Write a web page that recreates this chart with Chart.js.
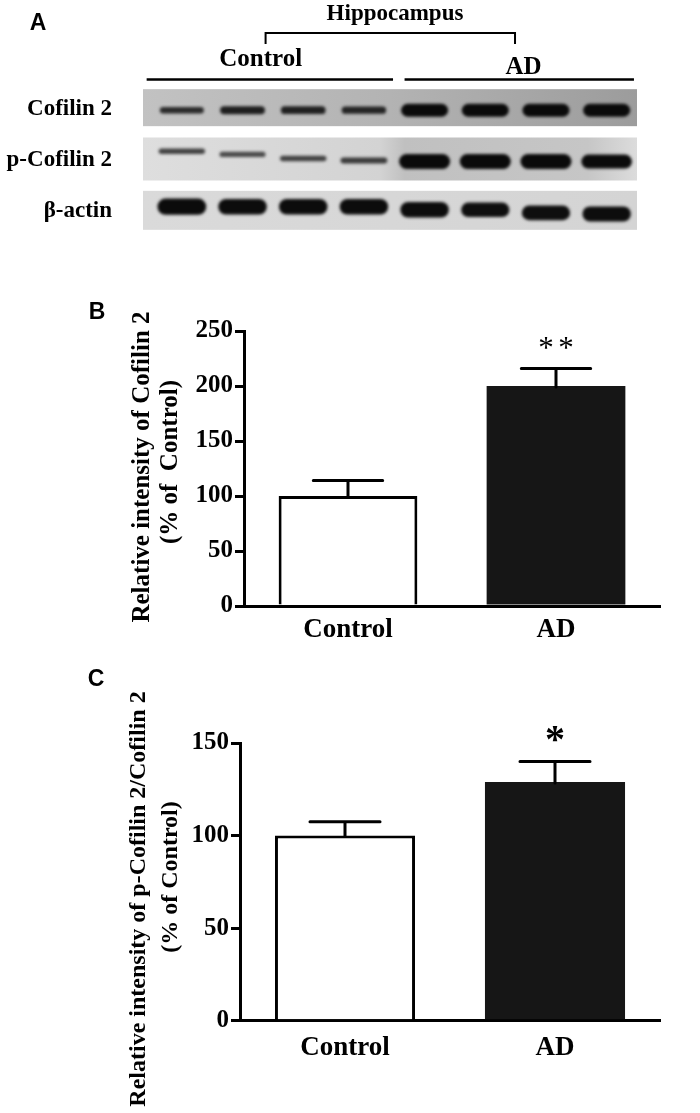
<!DOCTYPE html>
<html><head><meta charset="utf-8">
<script src="https://cdn.jsdelivr.net/npm/chart.js@4"></script>
<style>
html,body{margin:0;padding:0;background:#fff;}
body{width:700px;height:1113px;position:relative;overflow:hidden;}
canvas{position:absolute;left:0;}
</style></head><body>
<canvas id="blot" width="700" height="240" style="top:0px"></canvas>
<canvas id="chartB" width="700" height="430" style="top:240px"></canvas>
<canvas id="chartC" width="700" height="453" style="top:660px"></canvas>
<script>
// ---------------- data ----------------
const groups = ['Control', 'AD'];
const cofilinMean = [100, 200];
const cofilinSEM = [14, 16];
const cofilinSig = ['', '**'];
const ratioMean = [100, 129];
const ratioSEM = [7.5, 11];
const ratioSig = ['', '*'];
const yTicksB = [0, 50, 100, 150, 200, 250];
const yTicksC = [0, 50, 100, 150];

// western blot (panel A): 8 lanes, relative band density per lane
const laneGroups = ['Control', 'Control', 'Control', 'Control', 'AD', 'AD', 'AD', 'AD'];
const blotRows = ['Cofilin 2', 'p-Cofilin 2', 'β-actin'];
const cofilinBand = [0.58, 0.7, 0.68, 0.64, 1, 1, 1, 1];
const pCofilinBand = [0.4, 0.35, 0.4, 0.45, 1, 1, 1, 0.95];
const actinBand = [0.97, 0.94, 0.94, 0.94, 0.94, 0.9, 0.9, 0.92];
// band migration offset (fraction of row) per lane
const cofilinShift = [0.05, 0.05, 0.05, 0.05, 0.05, 0.05, 0.05, 0.05];
const pCofilinShift = [-0.15, -0.09, -0.01, 0.03, 0.05, 0.05, 0.05, 0.05];
const actinShift = [-0.07, -0.07, -0.07, -0.07, -0.01, -0.01, 0.05, 0.07];

Chart.defaults.font.family = 'Liberation Serif';
Chart.defaults.color = '#000';

// ---------------- panel A: blot ----------------
const rowStyles = [
  {half: 18.5, w: 47, t: 13, bg: [[0, '#c2c2c2'], [0.5, '#b3b3b3'], [1, '#9c9c9c']]},
  {half: 21.5, w: 51, t: 15, bg: [[0, '#dedede'], [0.48, '#d3d3d3'], [0.53, '#c0c0c0'], [0.9, '#c6c6c6'], [1, '#dcdcdc']]},
  {half: 19.5, w: 49, t: 17, bg: [[0, '#dadada'], [1, '#d4d4d4']]}
];
function stadium(ctx, cx, cy, w, h) {
  const r = h / 2;
  ctx.beginPath();
  ctx.moveTo(cx - w / 2 + r, cy - r);
  ctx.lineTo(cx + w / 2 - r, cy - r);
  ctx.arc(cx + w / 2 - r, cy, r, -Math.PI / 2, Math.PI / 2);
  ctx.lineTo(cx - w / 2 + r, cy + r);
  ctx.arc(cx - w / 2 + r, cy, r, Math.PI / 2, 3 * Math.PI / 2);
  ctx.closePath();
}
const blotPlugin = {
  id: 'blotPlugin',
  beforeDatasetsDraw(chart) {
    const ctx = chart.ctx, ys = chart.scales.y, ca = chart.chartArea;
    ctx.save();
    rowStyles.forEach((st, r) => {
      const cy = ys.getPixelForValue(r);
      const g = ctx.createLinearGradient(ca.left, 0, ca.right, 0);
      st.bg.forEach(s => g.addColorStop(s[0], s[1]));
      ctx.fillStyle = g;
      ctx.fillRect(ca.left, cy - st.half, ca.right - ca.left, st.half * 2);
    });
    ctx.filter = 'blur(1.8px)';
    chart.data.datasets.forEach((ds, r) => {
      const st = rowStyles[r];
      const meta = chart.getDatasetMeta(r);
      meta.data.forEach((pt, i) => {
        const v = ds.data[i].v;
        const w = st.w * (0.85 + 0.15 * v);
        const t = Math.max(3.5, st.t * (0.25 + 0.75 * v * v));
        const gray = Math.round(10 + 120 * Math.pow(1 - v, 1.5));
        ctx.fillStyle = 'rgb(' + gray + ',' + gray + ',' + gray + ')';
        stadium(ctx, pt.x, pt.y, w, t);
        ctx.fill();
      });
    });
    ctx.filter = 'none';
    ctx.restore();
  },
  afterDraw(chart) {
    const ctx = chart.ctx, xs = chart.scales.x, ys = chart.scales.y;
    ctx.save();
    ctx.fillStyle = '#000';
    ctx.strokeStyle = '#000';
    ctx.font = 'bold 23px "Liberation Sans"';
    ctx.textAlign = 'center'; ctx.textBaseline = 'middle';
    ctx.fillText('A', 38, 24);
    ctx.font = 'bold 23px "Liberation Serif"';
    ctx.textAlign = 'right';
    blotRows.forEach((lab, r) => ctx.fillText(lab, 112, ys.getPixelForValue(r) + 1));
    ctx.lineWidth = 2.5;
    ctx.beginPath();
    ctx.moveTo(xs.getPixelForValue(0.42), 79.5); ctx.lineTo(xs.getPixelForValue(4.48), 79.5);
    ctx.moveTo(xs.getPixelForValue(4.67), 79.5); ctx.lineTo(xs.getPixelForValue(8.45), 79.5);
    ctx.stroke();
    ctx.lineWidth = 2;
    ctx.beginPath();
    ctx.moveTo(xs.getPixelForValue(2.38), 44); ctx.lineTo(xs.getPixelForValue(2.38), 33);
    ctx.lineTo(xs.getPixelForValue(6.49), 33); ctx.lineTo(xs.getPixelForValue(6.49), 44);
    ctx.stroke();
    ctx.textAlign = 'center';
    ctx.font = 'bold 23px "Liberation Serif"';
    ctx.fillText('Hippocampus', 395, 14);
    ctx.font = 'bold 25px "Liberation Serif"';
    ctx.fillText(groups[0], xs.getPixelForValue(2.3), 60);
    ctx.fillText(groups[1], xs.getPixelForValue(6.63), 68);
    ctx.restore();
  }
};
function laneData(vals, shifts, r) {
  return laneGroups.map((g, i) => ({x: i + 1, y: r + shifts[i], v: vals[i]}));
}
new Chart(document.getElementById('blot'), {
  type: 'scatter',
  data: {
    datasets: [
      {label: blotRows[0], data: laneData(cofilinBand, cofilinShift, 0), pointRadius: 0},
      {label: blotRows[1], data: laneData(pCofilinBand, pCofilinShift, 1), pointRadius: 0},
      {label: blotRows[2], data: laneData(actinBand, actinShift, 2), pointRadius: 0}
    ]
  },
  options: {
    responsive: false, animation: false, events: [], devicePixelRatio: 1,
    layout: {padding: {left: 143, right: 63, top: 82, bottom: 4}},
    plugins: {legend: {display: false}, tooltip: {enabled: false}},
    scales: {
      x: {type: 'linear', min: 0.36, max: 8.5, display: false},
      y: {type: 'linear', min: -0.5, max: 2.5, reverse: true, display: false}
    }
  },
  plugins: [blotPlugin]
});

// ---------------- panels B & C ----------------
function decorPlugin(cfg) {
  return {
    id: 'decor',
    afterDatasetsDraw(chart) {
      const ctx = chart.ctx, ys = chart.scales.y;
      const meta = chart.getDatasetMeta(0);
      ctx.save();
      ctx.strokeStyle = '#000'; ctx.fillStyle = '#000';
      ctx.lineWidth = 3; ctx.lineCap = 'round';
      meta.data.forEach((bar, i) => {
        const top = ys.getPixelForValue(cfg.means[i] + cfg.sems[i]);
        const half = bar.width / 4;
        ctx.beginPath();
        ctx.moveTo(bar.x, bar.y + 1); ctx.lineTo(bar.x, top);
        ctx.moveTo(bar.x - half, top); ctx.lineTo(bar.x + half, top);
        ctx.stroke();
        const sig = cfg.sigs[i];
        if (sig) {
          ctx.font = cfg.starFont;
          ctx.textAlign = 'center'; ctx.textBaseline = 'alphabetic';
          const n = sig.length;
          for (let k = 0; k < n; k++) {
            const sx = bar.x + (k - (n - 1) / 2) * cfg.starGap;
            ctx.fillText('*', sx, top - cfg.starOffset);
          }
        }
      });
      ctx.restore();
    },
    afterDraw(chart) {
      const ctx = chart.ctx;
      ctx.save();
      ctx.fillStyle = '#000';
      ctx.font = 'bold 23px "Liberation Sans"';
      ctx.textAlign = 'center'; ctx.textBaseline = 'middle';
      ctx.fillText(cfg.letter, cfg.letterX, cfg.letterY);
      cfg.titles.forEach(t => {
        ctx.save();
        ctx.translate(t.x, t.y);
        ctx.rotate(-Math.PI / 2);
        ctx.font = t.font;
        ctx.textAlign = 'center'; ctx.textBaseline = 'middle';
        ctx.fillText(t.text, 0, 0);
        ctx.restore();
      });
      ctx.restore();
    }
  };
}

function barChart(id, means, ticks, cfg) {
  return new Chart(document.getElementById(id), {
    type: 'bar',
    data: {
      labels: groups,
      datasets: [{
        data: means,
        backgroundColor: ['#ffffff', '#161616'],
        borderColor: '#000',
        borderWidth: [3, 0],
        borderSkipped: 'start',
        barPercentage: 0.667,
        categoryPercentage: 1
      }]
    },
    options: {
      responsive: false, animation: false, events: [], devicePixelRatio: 1,
      layout: {padding: {left: 0, right: cfg.padRight, top: cfg.padTop, bottom: 0}},
      plugins: {legend: {display: false}, tooltip: {enabled: false}},
      scales: {
        x: {
          grid: {display: false, drawTicks: false},
          border: {display: true, color: '#000', width: 3},
          ticks: {font: {size: 27, weight: 'bold'}, color: '#000', padding: cfg.xPad},
          afterFit(s) { s.height = cfg.xHeight; }
        },
        y: {
          min: 0, max: ticks[ticks.length - 1],
          grid: {display: true, drawOnChartArea: false, drawTicks: true, tickLength: 9, lineWidth: 3, color: '#000'},
          border: {display: true, color: '#000', width: 3},
          ticks: {font: {size: 25, weight: 'bold'}, color: '#000', padding: 2},
          afterBuildTicks(s) { s.ticks = ticks.map(v => ({value: v})); },
          afterFit(s) { s.width = cfg.yWidth; }
        }
      }
    },
    plugins: [decorPlugin(cfg)]
  });
}

barChart('chartB', cofilinMean, yTicksB, {
  means: cofilinMean, sems: cofilinSEM, sigs: cofilinSig,
  padTop: 91, padRight: 40, yWidth: 244, xHeight: 64, xPad: 8,
  starFont: '31px "Liberation Serif"', starGap: 20, starOffset: 10,
  letter: 'B', letterX: 97, letterY: 73,
  titles: [
    {text: 'Relative intensity of Cofilin 2', x: 143, y: 227, font: 'bold 25px "Liberation Serif"'},
    {text: '(% of  Control)', x: 171, y: 222, font: 'bold 25px "Liberation Serif"'}
  ]
});

barChart('chartC', ratioMean, yTicksC, {
  means: ratioMean, sems: ratioSEM, sigs: ratioSig,
  padTop: 83, padRight: 40, yWidth: 240, xHeight: 92.3, xPad: 11,
  starFont: 'bold 40px "Liberation Serif"', starGap: 20, starOffset: 10,
  letter: 'C', letterX: 96, letterY: 20,
  titles: [
    {text: 'Relative intensity of p-Cofilin 2/Cofilin 2', x: 139, y: 239, font: 'bold 24px "Liberation Serif"'},
    {text: '(% of Control)', x: 171, y: 217, font: 'bold 24px "Liberation Serif"'}
  ]
});
</script>
</body></html>
